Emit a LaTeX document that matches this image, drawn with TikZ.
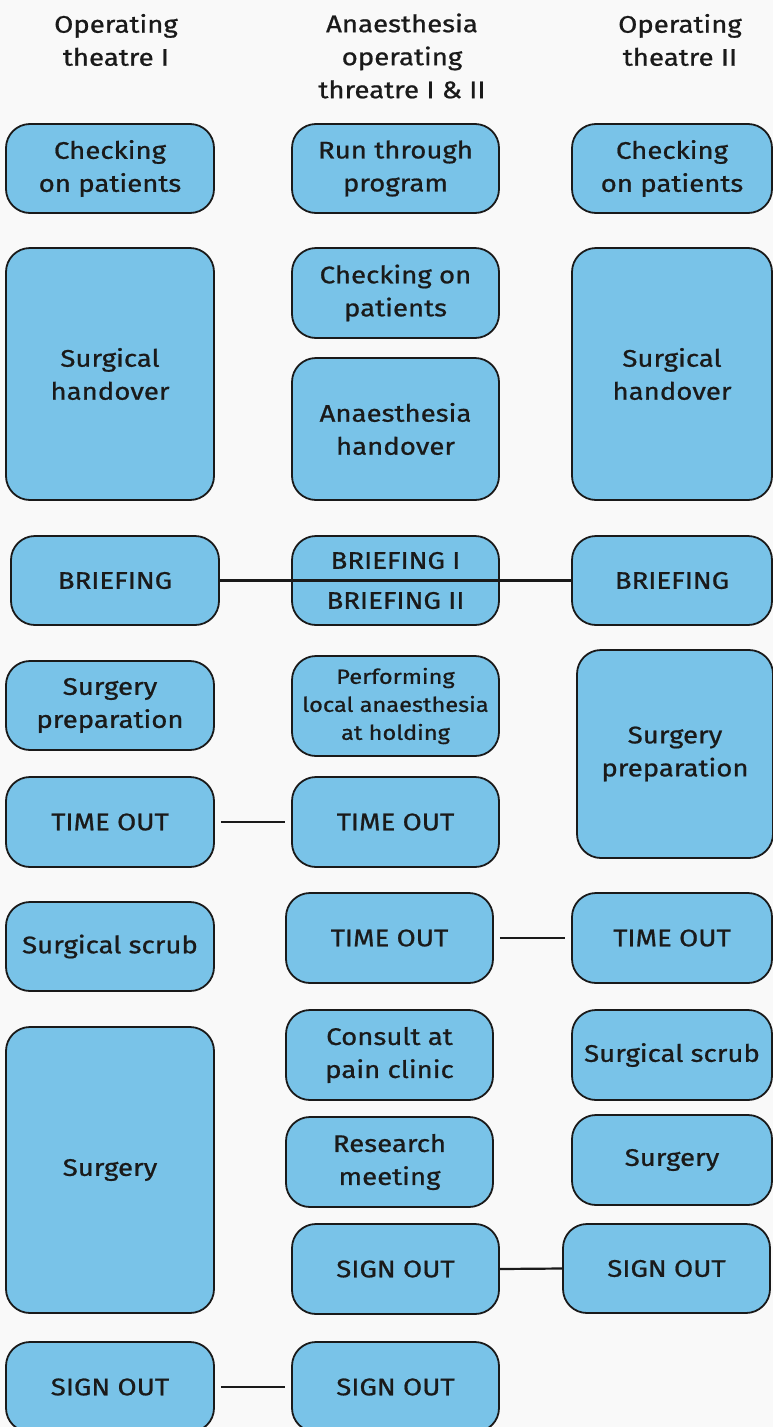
\documentclass[tikz,border=0pt]{standalone}
\usepackage{fontspec}
\setmainfont{Fira Sans}[FakeStretch=1.15, FakeBold=0.8]
\definecolor{boxblue}{HTML}{79C3E8}
\definecolor{paper}{HTML}{F9F9F9}
\definecolor{ink}{HTML}{1A1A1A}
\begin{document}
\begin{tikzpicture}[x=1pt,y=-1pt,
  box/.style={draw=ink, line width=1.8pt, fill=boxblue, rounded corners=24pt,
    align=center, inner sep=0pt, text=ink, font=\fontsize{24}{33}\selectfont},
  small/.style={font=\fontsize{20.5}{28}\selectfont},
  head/.style={align=center, inner sep=0pt, text=ink, font=\fontsize{24}{33}\selectfont},
  link/.style={draw=ink, line width=2.2pt}]
\fill[paper] (0,0) rectangle (773,1427);
\useasboundingbox (0,0) rectangle (773,1427);

% column headings
\node[head] (h1) at (116,40) {Operating\\theatre I};
\node[head] (h2) at (402,56) {Anaesthesia\\operating\\threatre I \& II};
\node[head] (h3) at (680,40) {Operating\\theatre II};

% operating theatre I
\node[box, minimum width=208pt, minimum height=89pt]  (L1) at (110,168.5) {Checking\\on patients};
\node[box, minimum width=208pt, minimum height=252pt] (L2) at (110,374) {Surgical\\handover};
\node[box, minimum width=208pt, minimum height=89pt]  (L3) at (115,580.5) {BRIEFING};
\node[box, minimum width=208pt, minimum height=89pt]  (L4) at (110,705.5) {Surgery\\preparation};
\node[box, minimum width=208pt, minimum height=90pt]  (L5) at (110,822) {TIME OUT};
\node[box, minimum width=208pt, minimum height=89pt]  (L6) at (110,946.5) {Surgical scrub};
\node[box, minimum width=208pt, minimum height=286pt] (L7) at (110,1170) {Surgery};
\node[box, minimum width=208pt, minimum height=90pt]  (L8) at (110,1387) {SIGN OUT};

% anaesthesia
\node[box, minimum width=207pt, minimum height=89pt]  (M1) at (395.5,168.5) {Run through\\program};
\node[box, minimum width=207pt, minimum height=90pt]  (M2) at (395.5,293) {Checking on\\patients};
\node[box, minimum width=207pt, minimum height=142pt] (M3) at (395.5,429) {Anaesthesia\\handover};
\node[box, minimum width=207pt, minimum height=89pt]  (M4) at (395.5,580.5) {BRIEFING I\\[7pt]BRIEFING II};
\node[box, small, minimum width=207pt, minimum height=100pt] (M5) at (395.5,706) {Performing\\local anaesthesia\\at holding};
\node[box, minimum width=207pt, minimum height=90pt]  (M6) at (395.5,822) {TIME OUT};
\node[box, minimum width=207pt, minimum height=90pt]  (M7) at (389.5,938) {TIME OUT};
\node[box, minimum width=207pt, minimum height=90pt]  (M8) at (389.5,1055) {Consult at\\pain clinic};
\node[box, minimum width=207pt, minimum height=90pt]  (M9) at (389.5,1162) {Research\\meeting};
\node[box, minimum width=207pt, minimum height=90pt]  (M10) at (395.5,1269) {SIGN OUT};
\node[box, minimum width=207pt, minimum height=90pt]  (M11) at (395.5,1387) {SIGN OUT};

% operating theatre II
\node[box, minimum width=200pt, minimum height=89pt]  (R1) at (672,168.5) {Checking\\on patients};
\node[box, minimum width=200pt, minimum height=252pt] (R2) at (672,374) {Surgical\\handover};
\node[box, minimum width=200pt, minimum height=89pt]  (R3) at (672,580.5) {BRIEFING};
\node[box, minimum width=196pt, minimum height=208pt] (R4) at (675,754) {Surgery\\preparation};
\node[box, minimum width=200pt, minimum height=90pt]  (R5) at (672,938) {TIME OUT};
\node[box, minimum width=200pt, minimum height=90pt]  (R6) at (672,1055) {Surgical scrub};
\node[box, minimum width=200pt, minimum height=90pt]  (R7) at (672,1160) {Surgery};
\node[box, minimum width=207pt, minimum height=89pt]  (R8) at (666.5,1268.5) {SIGN OUT};

% shared moments
\draw[link] (L3.east) -- (R3.west);
\draw[link, shorten <=6pt, shorten >=6pt] (L5.east) -- (M6.west);
\draw[link, shorten <=6pt, shorten >=6pt] (M7.east) -- (R5.west);
\draw[link] (M10.east) -- (R8.west);
\draw[link, shorten <=6pt, shorten >=6pt] (L8.east) -- (M11.west);
\end{tikzpicture}
\end{document}
